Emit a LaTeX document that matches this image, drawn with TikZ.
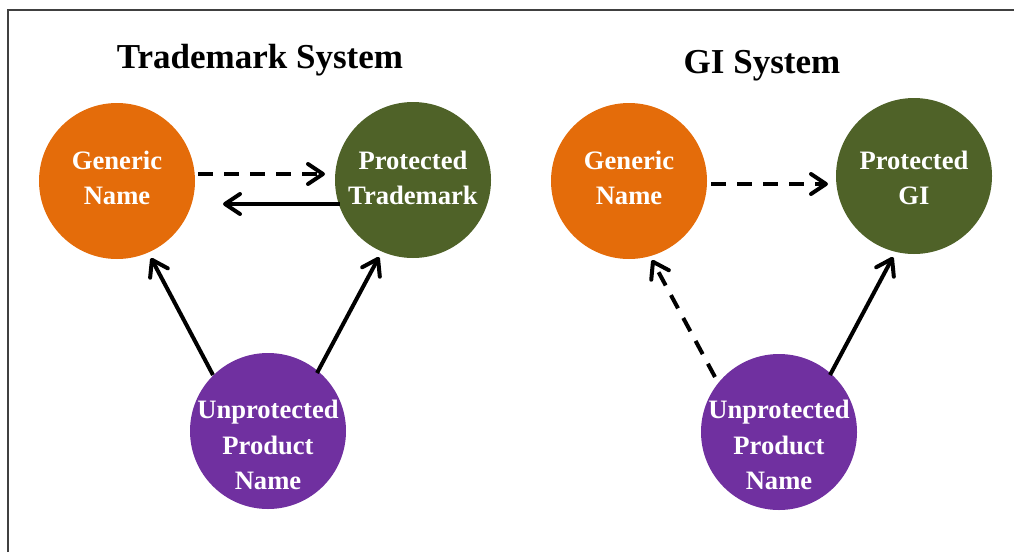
\documentclass[tikz,border=0pt]{standalone}
\usepackage{fontspec}
\setmainfont{Liberation Serif}
\usetikzlibrary{arrows.meta}
\definecolor{genorange}{RGB}{228,108,10}
\definecolor{protgreen}{RGB}{79,98,40}
\definecolor{unpurple}{RGB}{112,48,160}
\definecolor{framegray}{RGB}{64,64,64}
\tikzset{
  term/.style={circle, minimum size=156pt, inner sep=0pt},
  caption/.style={text=white, align=center, inner sep=0pt,
    font=\fontsize{26.6}{35.5}\selectfont\bfseries},
  generic/.style={term, fill=genorange},
  protected/.style={term, fill=protgreen},
  unprotected/.style={term, fill=unpurple},
  heading/.style={anchor=base, font=\fontsize{35}{40}\selectfont\bfseries},
  link/.style={line width=4pt, -{Straight Barb[length=15pt,width=20pt,round]}},
  weak/.style={link, dash pattern=on 15pt off 11pt},
}
\begin{document}
\begin{tikzpicture}[x=1pt, y=-1pt]
\useasboundingbox (0,0) rectangle (1014,552);
% frame
\draw[framegray, line width=1.5pt] (8,552) -- (8,10) -- (1014,10);

% trademark system
\node[heading] (tmtitle) at (260,68) {Trademark System};
\node[generic, label={[caption, yshift=3pt]center:Generic\\Name}] (gn1) at (117,181) {};
\node[protected, label={[caption, yshift=2pt]center:Protected\\Trademark}] (pt1) at (413,180) {};
\node[unprotected, label={[caption, yshift=-14pt]center:Unprotected\\Product\\Name}] (up1) at (268,431) {};

\draw[weak] ([shift={(81,-7)}]gn1.center) -- ([shift={(-88,-6)}]pt1.center);
\draw[link] ([shift={(-73,24)}]pt1.center) -- ([shift={(106,23)}]gn1.center);
\draw[link] ([shift={(-55,-56)}]up1.center) -- ([shift={(34,77)}]gn1.center);
\draw[link] ([shift={(49,-58)}]up1.center) -- ([shift={(-34,77)}]pt1.center);

% GI system
\node[heading] (gititle) at (762,73) {GI System};
\node[generic, label={[caption, yshift=3pt]center:Generic\\Name}] (gn2) at (629,181) {};
\node[protected, label={[caption, yshift=-2pt]center:Protected\\GI}] (pg) at (914,176) {};
\node[unprotected, label={[caption, yshift=-13pt]center:Unprotected\\Product\\Name}] (up2) at (779,432) {};

\draw[weak] ([shift={(82,3)}]gn2.center) -- ([shift={(-86,8)}]pg.center);
\draw[weak] ([shift={(-64,-55)}]up2.center) -- ([shift={(23,79)}]gn2.center);
\draw[link] ([shift={(51,-57)}]up2.center) -- ([shift={(-21,81)}]pg.center);
\end{tikzpicture}
\end{document}
